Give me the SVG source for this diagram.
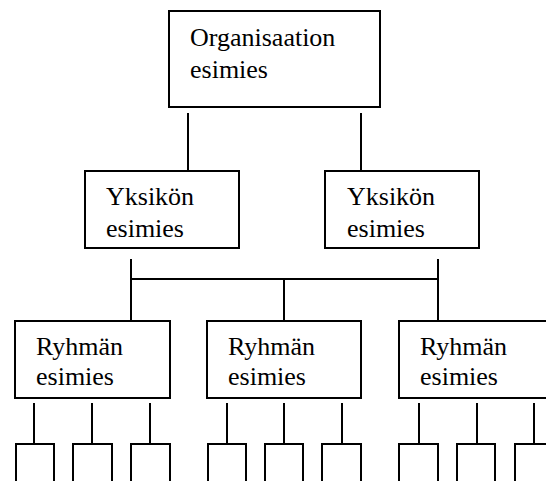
<svg xmlns="http://www.w3.org/2000/svg" width="546" height="481" viewBox="0 0 546 481">
  <style>
    .box { fill: #ffffff; stroke: #000000; stroke-width: 2; }
    .leaf { fill: none; stroke: #000000; stroke-width: 2; }
    .link { fill: none; stroke: #000000; stroke-width: 2; }
    text { font-family: 'Liberation Serif', 'Times New Roman', Tinos, 'Noto Serif', 'DejaVu Serif', serif; font-size: 26px; fill: #000000; }
  </style>
  <rect width="546" height="481" fill="#ffffff"/>

  <!-- connectors -->
  <g id="connectors">
    <line class="link" x1="188" y1="113" x2="188" y2="171"/>
    <line class="link" x1="361" y1="113" x2="361" y2="171"/>
    <line class="link" x1="131" y1="259" x2="131" y2="321"/>
    <line class="link" x1="438" y1="259" x2="438" y2="321"/>
    <line class="link" x1="131" y1="279" x2="438" y2="279"/>
    <line class="link" x1="284" y1="279" x2="284" y2="321"/>
    <line class="link" x1="34" y1="403" x2="34" y2="443"/>
    <line class="link" x1="92" y1="403" x2="92" y2="443"/>
    <line class="link" x1="150" y1="403" x2="150" y2="443"/>
    <line class="link" x1="227" y1="403" x2="227" y2="443"/>
    <line class="link" x1="284" y1="403" x2="284" y2="443"/>
    <line class="link" x1="342" y1="403" x2="342" y2="443"/>
    <line class="link" x1="419" y1="403" x2="419" y2="443"/>
    <line class="link" x1="477" y1="403" x2="477" y2="443"/>
    <line class="link" x1="534" y1="403" x2="534" y2="443"/>
  </g>

  <g id="organisaation-esimies">
    <rect class="box" x="169" y="11" width="211" height="96"/>
    <text x="190" y="46">Organisaation</text>
    <text x="190" y="78">esimies</text>
  </g>

  <g id="yksikon-esimies-1">
    <rect class="box" x="85" y="171" width="154" height="77"/>
    <text x="106" y="205">Yksikön</text>
    <text x="106" y="237">esimies</text>
  </g>

  <g id="yksikon-esimies-2">
    <rect class="box" x="325" y="171" width="154" height="77"/>
    <text x="347" y="205">Yksikön</text>
    <text x="347" y="237">esimies</text>
  </g>

  <g id="ryhman-esimies-1">
    <rect class="box" x="15" y="321" width="155" height="77"/>
    <text x="36" y="355">Ryhmän</text>
    <text x="36" y="385">esimies</text>
  </g>

  <g id="ryhman-esimies-2">
    <rect class="box" x="207" y="321" width="154" height="77"/>
    <text x="228" y="355">Ryhmän</text>
    <text x="228" y="385">esimies</text>
  </g>

  <g id="ryhman-esimies-3">
    <rect class="box" x="399" y="321" width="155" height="77"/>
    <text x="420" y="355">Ryhmän</text>
    <text x="420" y="385">esimies</text>
  </g>

  <!-- team members, open at the bottom edge -->
  <g id="jasen-1"><rect class="leaf" x="16" y="444" width="38" height="50"/></g>
  <g id="jasen-2"><rect class="leaf" x="73" y="444" width="39" height="50"/></g>
  <g id="jasen-3"><rect class="leaf" x="131" y="444" width="39" height="50"/></g>
  <g id="jasen-4"><rect class="leaf" x="208" y="444" width="38" height="50"/></g>
  <g id="jasen-5"><rect class="leaf" x="265" y="444" width="38" height="50"/></g>
  <g id="jasen-6"><rect class="leaf" x="322" y="444" width="39" height="50"/></g>
  <g id="jasen-7"><rect class="leaf" x="399" y="444" width="39" height="50"/></g>
  <g id="jasen-8"><rect class="leaf" x="457" y="444" width="38" height="50"/></g>
  <g id="jasen-9"><rect class="leaf" x="515" y="444" width="38" height="50"/></g>
</svg>
